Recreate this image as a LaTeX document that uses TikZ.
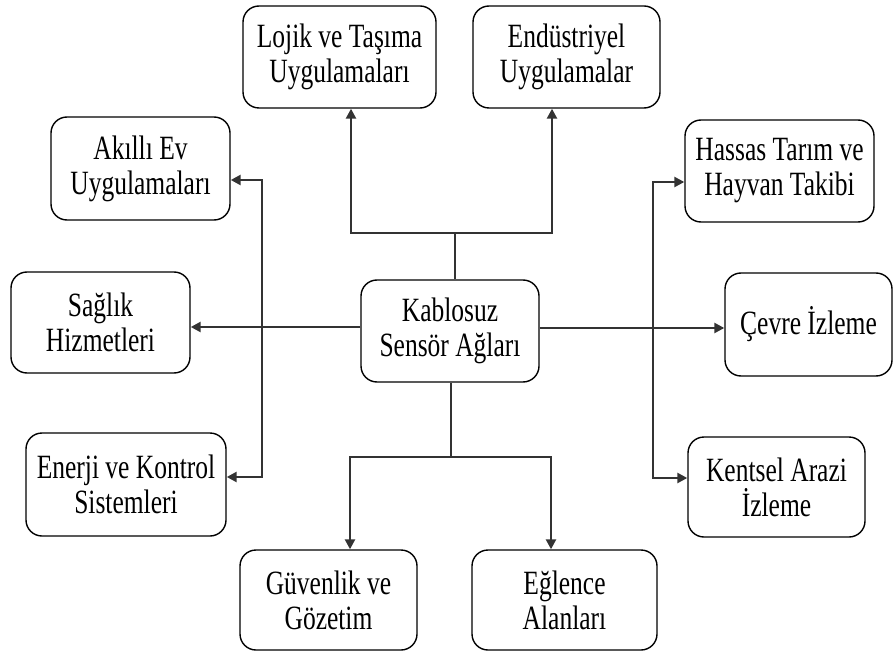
\documentclass[tikz,border=0pt]{standalone}
\usepackage{fontspec}
\setmainfont{Liberation Serif}[FakeStretch=0.75]
\usetikzlibrary{arrows.meta}
\begin{document}
\begin{tikzpicture}[x=1pt,y=-1pt,
  box/.style={draw=black, line width=1.4pt, rounded corners=16pt, align=center,
    inner sep=0pt, font=\fontsize{34}{35}\selectfont},
  conn/.style={draw=black!80, line width=2.4pt, line join=miter},
  arr/.style={conn, -{Triangle[length=10pt,width=10pt]}},
  arrs/.style={conn, {Triangle[length=10pt,width=10pt]}-{Triangle[length=10pt,width=10pt]}}]
\useasboundingbox (0,0) rectangle (893,652);
% boxes
\node[box, minimum width=193pt, minimum height=102pt] (lojik) at (339.5,57) {Lojik ve Taşıma\\Uygulamaları};
\node[box, minimum width=187pt, minimum height=102pt] (endus) at (566.5,57) {Endüstriyel\\Uygulamalar};
\node[box, minimum width=179pt, minimum height=103pt] (akilli) at (140.5,168.5) {Akıllı Ev\\Uygulamaları};
\node[box, minimum width=189pt, minimum height=102pt] (hassas) at (779.5,171) {Hassas Tarım ve\\Hayvan Takibi};
\node[box, minimum width=179pt, minimum height=101pt] (saglik) at (100.5,322.5) {Sağlık\\Hizmetleri};
\node[box, minimum width=178pt, minimum height=102pt] (center) at (450,331) {Kablosuz\\Sensör Ağları};
\node[box, minimum width=167pt, minimum height=103pt] (cevre) at (808.5,324.5) {Çevre İzleme};
\node[box, minimum width=200pt, minimum height=103pt] (enerji) at (126,484.5) {Enerji ve Kontrol\\Sistemleri};
\node[box, minimum width=177pt, minimum height=100pt] (kentsel) at (776.5,487) {Kentsel Arazi\\İzleme};
\node[box, minimum width=177pt, minimum height=100pt] (guv) at (328.5,600) {Güvenlik ve\\Gözetim};
\node[box, minimum width=185pt, minimum height=100pt] (egl) at (564.5,600) {Eğlence\\Alanları};
% junction coordinates
\coordinate (tj) at (455,233);
\coordinate (tl) at (351,233);
\coordinate (tr) at (552,233);
\coordinate (bj) at (451,457);
\coordinate (bl) at (350,457);
\coordinate (br) at (551,457);
\coordinate (lh) at (262,327);
\coordinate (la) at (262,180);
\coordinate (le) at (262,477);
\coordinate (rh) at (653,328);
\coordinate (ra) at (653,182);
\coordinate (re) at (653,478);
% connectors
\draw[conn] (center.north -| tj) -- (tj);
\draw[arrs] (lojik.south -| tl) -- (tl) -- (tr) -- (endus.south -| tr);
\draw[conn] (center.south -| bj) -- (bj);
\draw[arrs] (guv.north -| bl) -- (bl) -- (br) -- (egl.north -| br);
\draw[arr] (center.west |- lh) -- (saglik.east |- lh);
\draw[arrs] (akilli.east |- la) -- (la) -- (le) -- (enerji.east |- le);
\draw[arr] (center.east |- rh) -- (cevre.west |- rh);
\draw[arrs] (hassas.west |- ra) -- (ra) -- (re) -- (kentsel.west |- re);
\end{tikzpicture}
\end{document}
